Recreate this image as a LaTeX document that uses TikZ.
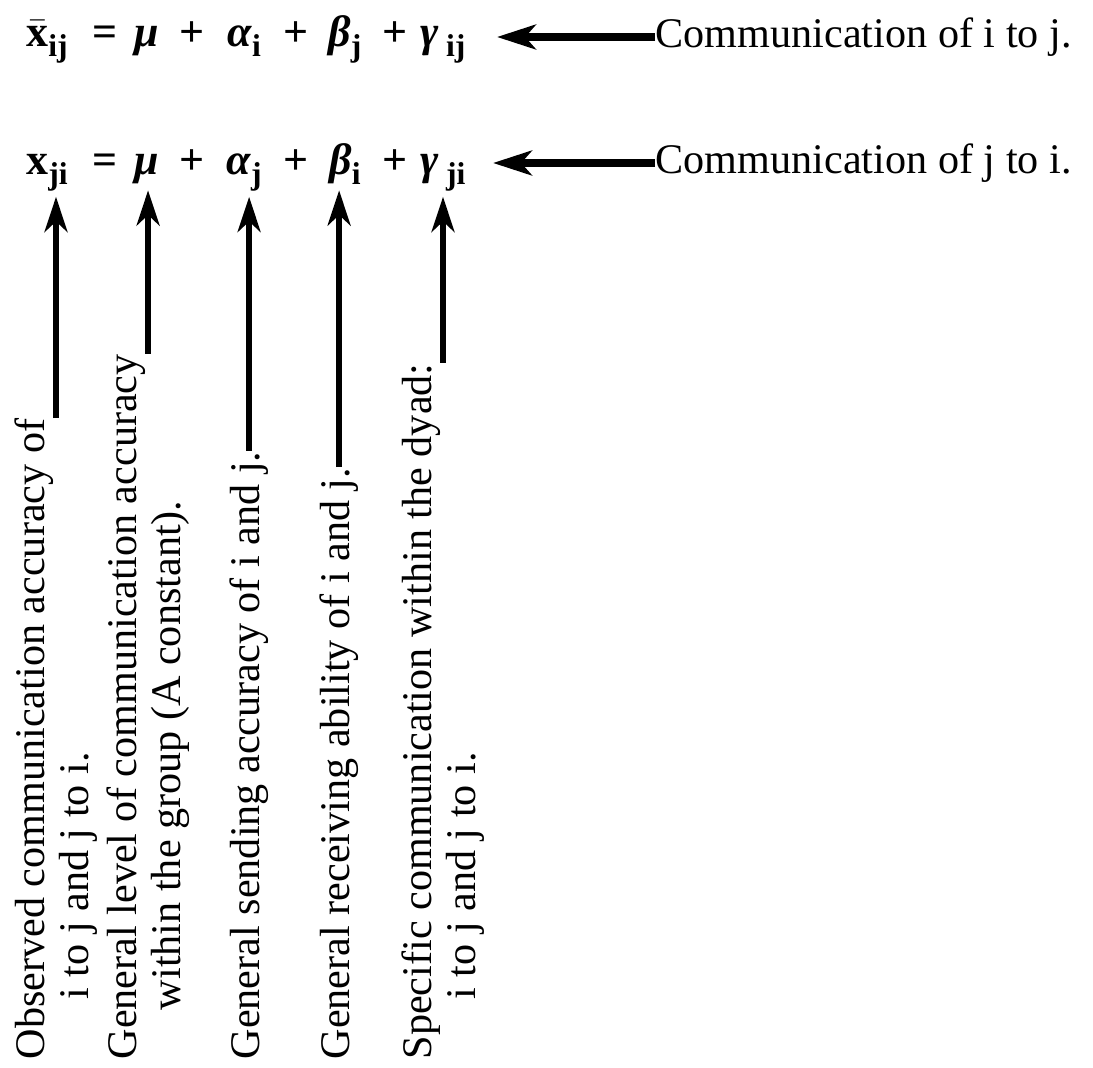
\documentclass[tikz,border=0pt]{standalone}
\usepackage{fontspec}
\setmainfont{Liberation Serif}
\usetikzlibrary{arrows.meta}
\newcommand{\sbs}[1]{\raisebox{-0.45ex}{\fontsize{9}{9}\selectfont #1}}
\newcommand{\gr}[1]{\textit{#1}}
\begin{document}
\begin{tikzpicture}[x=0.1mm,y=-0.1mm]
    \tikzstyle{t}=[font=\fontsize{12.5}{12.5}\selectfont\bfseries, inner sep=0pt, anchor=base]
    \tikzstyle{txt}=[font=\fontsize{12}{12}\selectfont, inner sep=0pt, anchor=west]
    \tikzstyle{lbl}=[font=\fontsize{12}{12.5}\selectfont, inner sep=0pt, rotate=90, anchor=north west, align=left]
    \tikzstyle{up}=[line width=1.7pt, shorten >=1.5pt, -{Stealth[length=10pt,width=6.5pt,inset=3pt]}]
    \tikzstyle{back}=[line width=2pt, -{Stealth[length=11pt,width=7pt,inset=3pt]}]
    \useasboundingbox (0,0) rectangle (1093,1068);
    % i to j
    \node[t] (x1) at (47,47) {$\bar{\mbox{\bfseries x}}$\sbs{ij}};
    \node[t] (e1) at (105,47) {=};
    \node[t] (m1) at (147,47) {\gr{μ}};
    \node[t] (a1) at (244,47) {\gr{α}\sbs{i}};
    \node[t] (b1) at (345,47) {\gr{β}\sbs{j}};
    \node[t] (g1) at (443,47) {\gr{γ}\,\sbs{ij}};
    \foreach \x [count=\k] in {192,296,395} {\node[t] (p1\k) at (\x,47) {+};}
    \node[txt] (c1) at (655,37) {Communication of i to j.};
    \coordinate (h1) at (497,37);
    \draw[back] (c1.west) -- (h1);
    % j to i
    \node[t] (x2) at (47,175) {x\sbs{ji}};
    \node[t] (e2) at (105,175) {=};
    \node[t] (m2) at (147,175) {\gr{μ}};
    \node[t] (a2) at (244,175) {\gr{α}\sbs{j}};
    \node[t] (b2) at (345,175) {\gr{β}\sbs{i}};
    \node[t] (g2) at (443,175) {\gr{γ}\,\sbs{ji}};
    \foreach \x [count=\k] in {192,296,395} {\node[t] (p2\k) at (\x,175) {+};}
    \node[txt] (c2) at (655,163) {Communication of j to i.};
    \coordinate (h2) at (493,163);
    \draw[back] (c2.west) -- (h2);
    % the terms of the model
    \node[lbl] (l1) at (14,1060) {Observed communication accuracy of\\\hspace*{17pt}i to j and j to i.};
    \node[lbl] (l2) at (106,1060) {General level of communication accuracy\\\hspace*{14pt}within the group (A constant).};
    \node[lbl] (l3) at (229,1060) {General sending accuracy of i and j.};
    \node[lbl] (l4) at (319,1060) {General receiving ability of i and j.};
    \node[lbl] (l5) at (401,1060) {Specific communication within the dyad:\\\hspace*{17pt}i to j and j to i.};
    \draw[up] (l1.east) -- (l1.east |- x2.south);
    \draw[up] (l2.east) -- (l2.east |- m2.south);
    \draw[up] (l3.east) -- (l3.east |- a2.south);
    \draw[up] (l4.east) -- (l4.east |- b2.south);
    \draw[up] (l5.east) -- (l5.east |- g2.south);
  \end{tikzpicture}
\end{document}
